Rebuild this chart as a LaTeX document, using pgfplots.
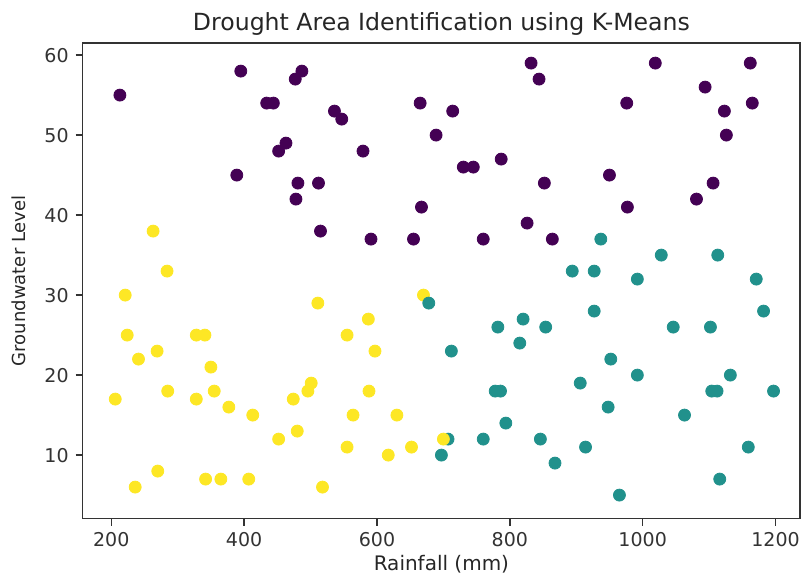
\documentclass[border=0pt]{standalone}
\usepackage{pgfplots}
\pgfplotsset{compat=1.18}
\usepackage{fontspec}
\setmainfont{DejaVu Sans}
\definecolor{vpurple}{HTML}{440154}
\definecolor{vteal}{HTML}{21918C}
\definecolor{vyellow}{HTML}{FDE725}
\begin{document}
\begin{tikzpicture}
\path[use as bounding box] (-41.35pt,-27.15pt) rectangle (360.15pt,259.35pt);
\begin{axis}[
    scale only axis,
    width=358.7pt, height=238pt,
    xmin=157, xmax=1237,
    ymin=2.05, ymax=61.55,
    xtick={200,400,...,1200},
    ytick={10,20,...,60},
    tick align=outside,
    tick pos=left,
    major tick length=3.5pt,
    axis line style={black!80, line width=0.8pt},
    every tick/.style={black!80, line width=0.7pt},
    tick label style={font=\fontsize{9.5}{11}\selectfont, text=black!80},
    /pgf/number format/assume math mode=true,
    /pgf/number format/set thousands separator={},
    xlabel={Rainfall (mm)},
    ylabel={Groundwater Level},
    xlabel style={font=\fontsize{10}{11}\selectfont, text=black!85, yshift=3pt},
    ylabel style={font=\fontsize{9}{10}\selectfont, text=black!85, yshift=2.5pt},
    title={Drought Area Identification using K-Means},
    title style={font=\fontsize{11.8}{13}\selectfont, text=black!85, yshift=-6pt},
    clip=false,
]
% cluster 0
\addplot[only marks, mark=*, mark size=3pt, color=vpurple] coordinates {
(213,55) (395,58) (487,58) (477,57) (434,54) (444,54) (536,53) (547,52)
(463,49) (452,48) (389,45) (481,44) (512,44) (478,42) (515,38)
(832,59) (844,57) (665,54) (714,53) (689,50) (579,48) (730,46) (745,46)
(787,47) (852,44) (667,41) (826,39) (591,37) (655,37) (760,37) (864,37)
(1019,59) (1162,59) (1094,56) (976,54) (1165,54) (1123,53) (1126,50)
(950,45) (1106,44) (1081,42) (977,41)
};
% cluster 1
\addplot[only marks, mark=*, mark size=3pt, color=vteal] coordinates {
(937,37) (1028,35) (1113,35) (894,33) (927,33) (992,32) (1171,32)
(927,28) (1182,28) (1046,26) (1102,26) (952,22) (992,20) (1132,20)
(906,19) (1104,18) (1112,18) (1197,18) (948,16) (1063,15) (914,11)
(1159,11) (1116,7) (965,5)
(782,26) (820,27) (854,26) (815,24) (712,23) (778,18) (786,18) (794,14)
(760,12) (846,12) (697,10) (868,9) (707,12)
};
% cluster 2
\addplot[only marks, mark=*, mark size=3pt, color=vyellow] coordinates {
(263,38) (284,33) (221,30) (670,30) (587,27) (555,25) (597,23) (588,18)
(564,15) (630,15) (555,11) (617,10) (652,11) (700,12) (518,6)
(511,29) (224,25) (328,25) (341,25) (269,23) (241,22) (350,21) (206,17)
(285,18) (328,17) (355,18) (377,16) (413,15) (474,17) (496,18) (501,19)
(480,13) (452,12) (270,8) (236,6) (342,7) (365,7) (407,7)
};
\addplot[only marks, mark=*, mark size=3pt, color=vteal] coordinates {(678,29)};
\end{axis}
\end{tikzpicture}
\end{document}
